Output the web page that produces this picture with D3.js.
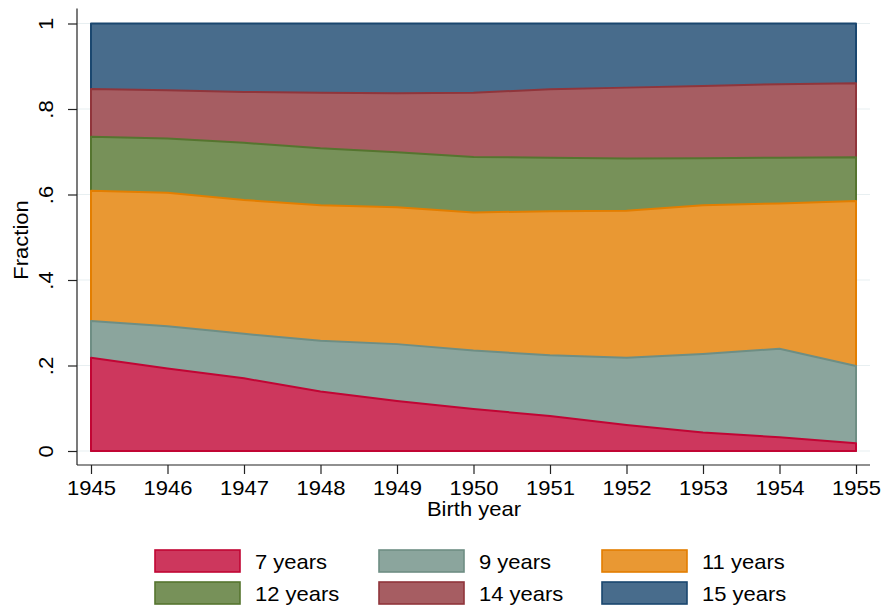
<!DOCTYPE html>
<html>
<head>
<meta charset="utf-8">
<script src="https://cdn.jsdelivr.net/npm/d3@7/dist/d3.min.js"></script>
<style>
  html, body { margin: 0; padding: 0; background: #fff; }
  svg { display: block; font-family: "Liberation Sans", Arial, sans-serif; }
</style>
</head>
<body>
<svg id="chart" width="883" height="608"></svg>
<script>
// Birth cohorts on the x axis
const years = [1945, 1946, 1947, 1948, 1949, 1950, 1951, 1952, 1953, 1954, 1955];

// Share of each cohort by years of schooling
const seriesNames = ["7 years", "9 years", "11 years", "12 years", "14 years", "15 years"];
const share7  = [0.218, 0.193, 0.170, 0.139, 0.117, 0.098, 0.082, 0.061, 0.043, 0.032, 0.018];
const share9  = [0.086, 0.099, 0.104, 0.119, 0.133, 0.137, 0.142, 0.157, 0.184, 0.207, 0.181];
const share11 = [0.305, 0.312, 0.313, 0.317, 0.320, 0.323, 0.337, 0.344, 0.348, 0.340, 0.386];
const share12 = [0.126, 0.127, 0.134, 0.133, 0.129, 0.130, 0.125, 0.122, 0.110, 0.107, 0.102];
const share14 = [0.112, 0.113, 0.119, 0.130, 0.138, 0.150, 0.160, 0.166, 0.169, 0.172, 0.173];
const share15 = [0.153, 0.156, 0.160, 0.162, 0.163, 0.162, 0.154, 0.150, 0.146, 0.142, 0.140];

const yTicks = [0, 0.2, 0.4, 0.6, 0.8, 1];
const yTickLabels = ["0", ".2", ".4", ".6", ".8", "1"];

// cranberry, teal, dkorange, forest green, maroon, navy
const lineColors = ["#c10534", "#6e8e84", "#e37e00", "#55752f", "#90353b", "#1a476f"];
// fills are the line colours at 80% intensity over white
const fillColors = lineColors.map(c => d3.interpolateRgb(c, "#ffffff")(0.2));

const shares = [share7, share9, share11, share12, share14, share15];
const table = years.map((yr, i) => {
  const row = { year: yr };
  seriesNames.forEach((name, k) => { row[name] = shares[k][i]; });
  return row;
});

const FONT = 20;
const WIDEN = "scale(1.1,1)";

const svg = d3.select("#chart");

const x = d3.scaleLinear().domain([1945, 1955]).range([91, 856]);
const y = d3.scaleLinear().domain([0, 1]).range([451, 23.5]);

// Light horizontal grid
svg.append("g")
  .selectAll("line")
  .data(yTicks)
  .join("line")
  .attr("x1", 77).attr("x2", 870)
  .attr("y1", d => y(d)).attr("y2", d => y(d))
  .attr("stroke", "#e8eff1")
  .attr("stroke-width", 1.2);

// Cumulative shares: each band is filled from zero up to its running total,
// widest band first so the narrower ones sit on top.
const stacked = d3.stack().keys(seriesNames)(table);

const area = d3.area()
  .x(d => x(d.data.year))
  .y0(y(0))
  .y1(d => y(d[1]));

svg.append("g")
  .selectAll("path")
  .data(stacked.slice().reverse())
  .join("path")
  .attr("d", area)
  .attr("fill", d => fillColors[d.index])
  .attr("stroke", d => lineColors[d.index])
  .attr("stroke-width", 2)
  .attr("stroke-linejoin", "round");

// Y axis
const yAxis = d3.axisLeft(y)
  .tickValues(yTicks)
  .tickFormat((d, i) => yTickLabels[i])
  .tickSize(9)
  .tickSizeOuter(0);

const gy = svg.append("g")
  .attr("transform", "translate(77,0)")
  .call(yAxis);
gy.select(".domain").attr("d", "M0,8.5V465").attr("stroke", "#222").attr("stroke-width", 1.2);
gy.selectAll(".tick line").attr("stroke", "#222").attr("stroke-width", 1.2);
gy.selectAll(".tick text")
  .attr("x", null).attr("dy", null)
  .attr("text-anchor", "middle")
  .attr("transform", "translate(-24,0) rotate(-90) " + WIDEN)
  .attr("font-size", FONT)
  .attr("font-family", "Liberation Sans, Arial, sans-serif")
  .attr("fill", "#000");

// X axis
const xAxis = d3.axisBottom(x)
  .tickValues(years)
  .tickFormat(d3.format("d"))
  .tickSize(9)
  .tickSizeOuter(0);

const gx = svg.append("g")
  .attr("transform", "translate(0,465)")
  .call(xAxis);
gx.select(".domain").attr("d", "M77,0H870").attr("stroke", "#222").attr("stroke-width", 1.2);
gx.selectAll(".tick line").attr("stroke", "#222").attr("stroke-width", 1.2);
gx.selectAll(".tick text")
  .attr("y", null).attr("dy", null)
  .attr("transform", "translate(0,30) " + WIDEN)
  .attr("font-size", FONT)
  .attr("font-family", "Liberation Sans, Arial, sans-serif")
  .attr("fill", "#000");

// Axis titles
svg.append("text")
  .attr("transform", "translate(474,516) " + WIDEN)
  .attr("text-anchor", "middle")
  .attr("font-size", FONT)
  .text("Birth year");

svg.append("text")
  .attr("transform", "translate(28,240) rotate(-90) " + WIDEN)
  .attr("text-anchor", "middle")
  .attr("font-size", FONT)
  .text("Fraction");

// Legend, three columns by two rows
const legendX = [155, 379, 602];
const legendY = [550, 582];
const legend = svg.append("g")
  .selectAll("g")
  .data(seriesNames)
  .join("g")
  .attr("transform", (d, i) => `translate(${legendX[i % 3]},${legendY[Math.floor(i / 3)]})`);

legend.append("rect")
  .attr("width", 85).attr("height", 22)
  .attr("fill", (d, i) => fillColors[i])
  .attr("stroke", (d, i) => lineColors[i])
  .attr("stroke-width", 1.6);

legend.append("text")
  .attr("transform", "translate(100,19) " + WIDEN)
  .attr("font-size", FONT)
  .text(d => d);
</script>
</body>
</html>
